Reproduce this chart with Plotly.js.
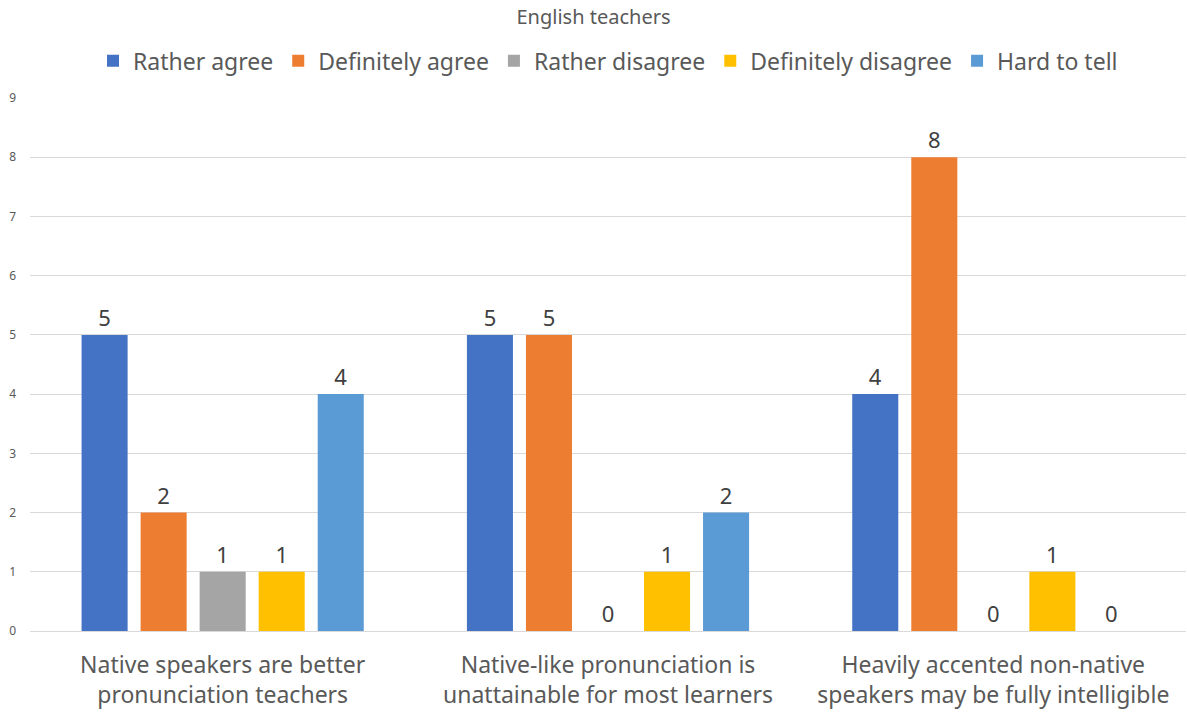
<!DOCTYPE html>
<html>
<head>
<meta charset="utf-8">
<script src="https://cdn.plot.ly/plotly-3.0.1.min.js"></script>
<style>html,body{margin:0;padding:0;background:#fff;}#chart{width:1187px;height:715px;}</style>
</head>
<body>
<div id="chart"></div>
<script>
const categories = [
  "Native speakers are better<br>pronunciation teachers",
  "Native-like pronunciation is<br>unattainable for most learners",
  "Heavily accented non-native<br>speakers may be fully intelligible"
];
const seriesNames = ["Rather agree", "Definitely agree", "Rather disagree", "Definitely disagree", "Hard to tell"];
const ratherAgree = [5, 5, 4];
const definitelyAgree = [2, 5, 8];
const ratherDisagree = [1, 0, 0];
const definitelyDisagree = [1, 1, 1];
const hardToTell = [4, 2, 0];
const yTicks = [0, 1, 2, 3, 4, 5, 6, 7, 8, 9];

const seriesValues = [ratherAgree, definitelyAgree, ratherDisagree, definitelyDisagree, hardToTell];
const colors = ["#4472C4", "#ED7D31", "#A5A5A5", "#FFC000", "#5B9BD5"];
const FONT = "Noto Sans, Open Sans, sans-serif";

const traces = seriesValues.map((vals, i) => ({
  type: "bar",
  name: seriesNames[i],
  x: categories,
  y: vals,
  marker: {color: colors[i]},
  text: vals.map(String),
  textposition: "outside",
  textfont: {family: FONT, size: 22, color: "#404040"},
  cliponaxis: false,
  hoverinfo: "none"
}));

const layout = {
  width: 1187,
  height: 715,
  margin: {l: 30, r: 1, t: 98, b: 84},
  paper_bgcolor: "#ffffff",
  plot_bgcolor: "#ffffff",
  barmode: "group",
  bargap: 0.234,
  bargroupgap: 0.22,
  title: {
    text: "English teachers",
    font: {family: FONT, size: 20, color: "#595959"},
    x: 0.5, xanchor: "center",
    y: 0.976, yanchor: "middle"
  },
  showlegend: true,
  legend: {
    orientation: "h",
    x: 0.5, xanchor: "center",
    y: 1.07, yanchor: "middle",
    font: {family: FONT, size: 23, color: "#595959"},
    itemwidth: 30,
    tracegroupgap: 0
  },
  xaxis: {
    tickfont: {family: FONT, size: 23, color: "#595959"},
    showline: false,
    ticks: "",
    ticklabelstandoff: 18,
    fixedrange: true
  },
  yaxis: {
    range: [0, 9],
    tickvals: yTicks,
    ticktext: yTicks.map(String),
    tickfont: {family: FONT, size: 12, color: "#595959"},
    gridcolor: "#D9D9D9",
    gridwidth: 1,
    zeroline: true,
    zerolinecolor: "#D9D9D9",
    zerolinewidth: 1,
    showline: false,
    ticks: "",
    ticklabelstandoff: 13,
    fixedrange: true
  }
};

Plotly.newPlot("chart", traces, layout, {displayModeBar: false, staticPlot: true});
</script>
</body>
</html>
